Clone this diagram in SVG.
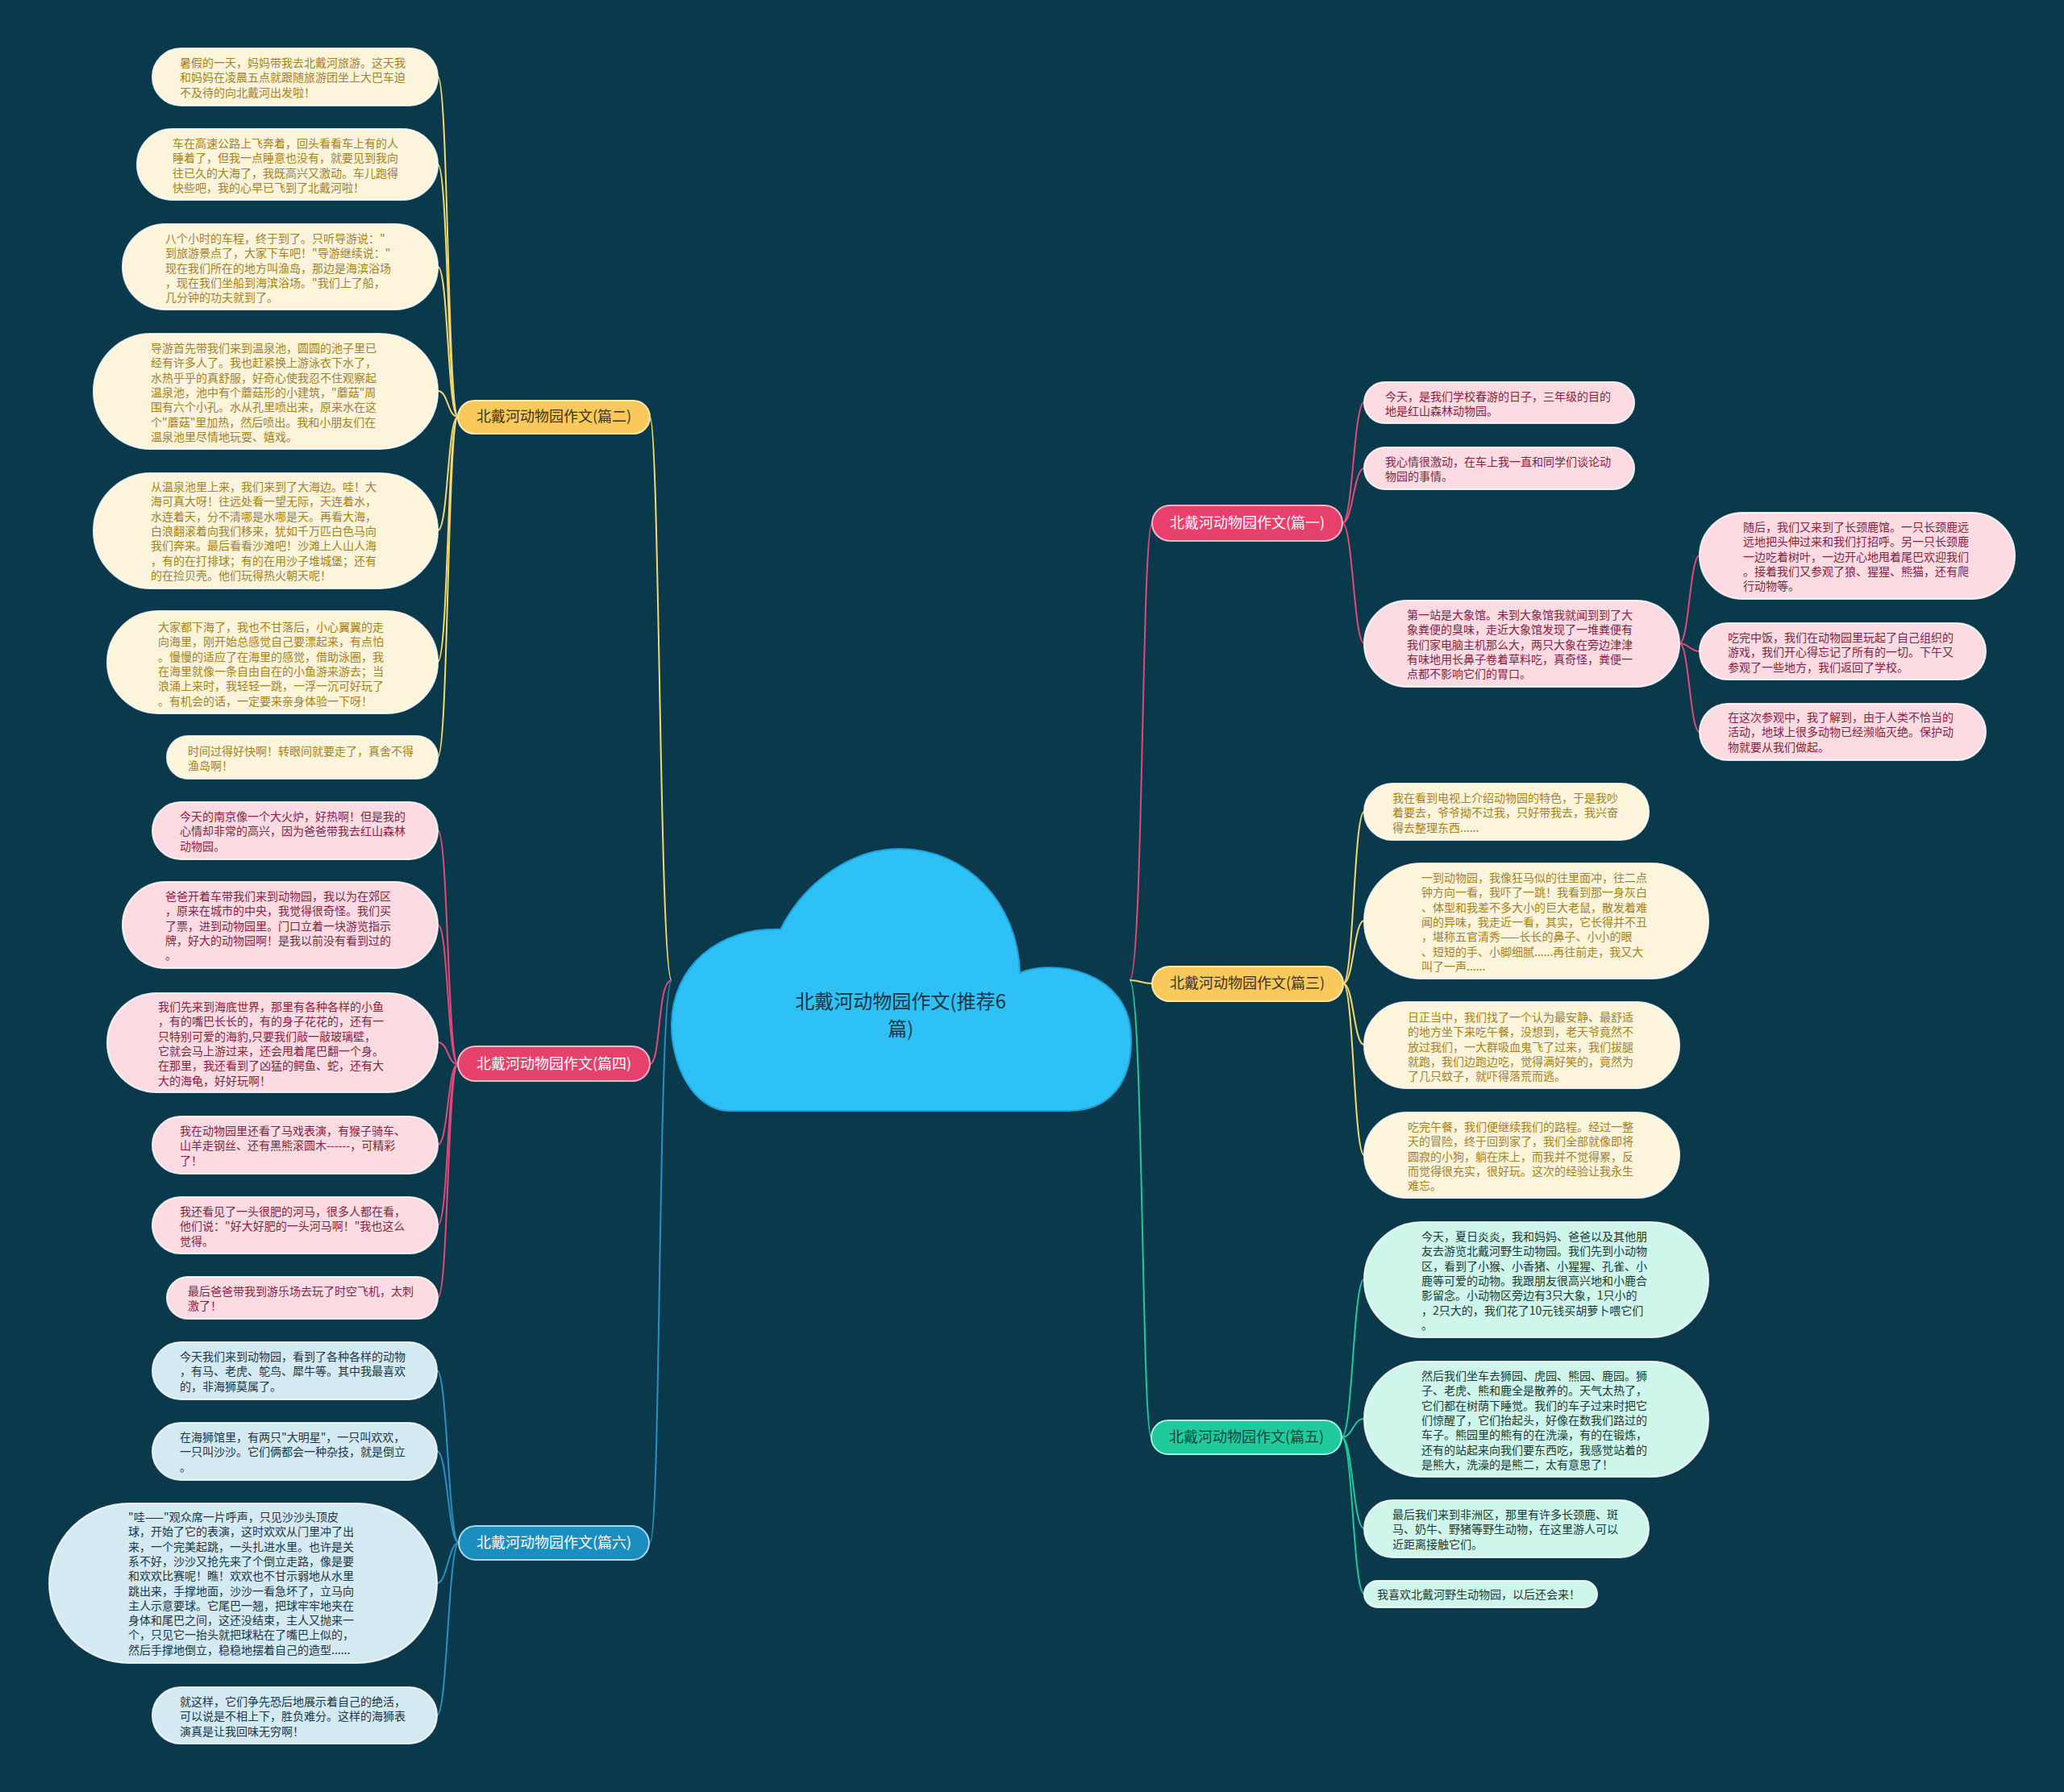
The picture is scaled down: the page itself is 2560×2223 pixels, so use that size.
<svg xmlns="http://www.w3.org/2000/svg" width="2560" height="2223" viewBox="0 0 2560 2223">
<style>
text{font-family:"Noto Sans CJK SC","Noto Sans",sans-serif;}
.t{font-size:14px;}
.lb{font-size:18px;text-anchor:middle;}
.ny{fill:#fdf5db;stroke:#ffffff;stroke-opacity:.85;stroke-width:2;}
.np{fill:#fcdce2;stroke:#ffffff;stroke-opacity:.85;stroke-width:2;}
.nb{fill:#d3eaf2;stroke:#ffffff;stroke-opacity:.85;stroke-width:2;}
.ng{fill:#cff6eb;stroke:#ffffff;stroke-opacity:.85;stroke-width:2;}
.ty{fill:#a8811f;}
.tp{fill:#8b1e3f;}
.tb{fill:#1e3545;}
.tg{fill:#1b3a35;}
.ly{fill:#f9c95b;stroke:#fde8b0;stroke-width:2;}
.lp{fill:#e6416c;stroke:#f7b3c4;stroke-width:2;}
.lbu{fill:#1b8ebf;stroke:#a9dbef;stroke-width:2;}
.lg{fill:#1fcb9c;stroke:#a9efdc;stroke-width:2;}
.c{fill:none;stroke-width:2;}
.cy{stroke:#f5d76e;}
.cp{stroke:#e24a78;}
.cb{stroke:#2a8fc1;}
.cg{stroke:#1fcb9c;}
</style>
<rect class="bg" x="0" y="0" width="2560" height="2223" fill="#0a394c"/>

<g id="connectors">
  <!-- root to branches -->
  <path class="c cy" d="M833 1216 C818 1216,818 517,806 517"/>
  <path class="c cp" d="M833 1216 C815 1216,820 1320,806 1320"/>
  <path class="c cb" d="M833 1216 C816 1216,820 1914,806 1914"/>
  <path class="c cp" d="M1401 1216 C1418 1216,1416 649,1429 649"/>
  <path class="c cy" d="M1401 1216 C1415 1216,1415 1220,1429 1220"/>
  <path class="c cg" d="M1401 1216 C1418 1216,1416 1783,1428 1783"/>
  <!-- 篇二 children -->
  <path class="c cy" d="M568 517 C555 517,556 95,543 95"/>
  <path class="c cy" d="M568 517 C555 517,556 204,543 204"/>
  <path class="c cy" d="M568 517 C555 517,556 331,543 331"/>
  <path class="c cy" d="M568 517 C555 517,556 485,543 485"/>
  <path class="c cy" d="M568 517 C555 517,556 658,543 658"/>
  <path class="c cy" d="M568 517 C555 517,556 821,543 821"/>
  <path class="c cy" d="M568 517 C555 517,556 939,543 939"/>
  <!-- 篇四 children -->
  <path class="c cp" d="M568 1320 C555 1320,556 1030,543 1030"/>
  <path class="c cp" d="M568 1320 C555 1320,556 1147,543 1147"/>
  <path class="c cp" d="M568 1320 C555 1320,556 1293,543 1293"/>
  <path class="c cp" d="M568 1320 C555 1320,556 1420,543 1420"/>
  <path class="c cp" d="M568 1320 C555 1320,556 1520,543 1520"/>
  <path class="c cp" d="M568 1320 C555 1320,556 1610,543 1610"/>
  <!-- 篇六 children -->
  <path class="c cb" d="M569 1914 C556 1914,555 1700,542 1700"/>
  <path class="c cb" d="M569 1914 C556 1914,555 1800,542 1800"/>
  <path class="c cb" d="M569 1914 C556 1914,555 1964,542 1964"/>
  <path class="c cb" d="M569 1914 C556 1914,555 2128,542 2128"/>
  <!-- 篇一 children -->
  <path class="c cp" d="M1665 649 C1678 649,1679 499,1692 499"/>
  <path class="c cp" d="M1665 649 C1678 649,1679 581,1692 581"/>
  <path class="c cp" d="M1665 649 C1678 649,1679 798,1692 798"/>
  <path class="c cp" d="M2083 798 C2095 798,2096 689,2108 689"/>
  <path class="c cp" d="M2083 798 C2095 798,2096 808,2108 808"/>
  <path class="c cp" d="M2083 798 C2095 798,2096 908,2108 908"/>
  <!-- 篇三 children -->
  <path class="c cy" d="M1666 1220 C1679 1220,1679 1007,1692 1007"/>
  <path class="c cy" d="M1666 1220 C1679 1220,1679 1142,1692 1142"/>
  <path class="c cy" d="M1666 1220 C1679 1220,1679 1296,1692 1296"/>
  <path class="c cy" d="M1666 1220 C1679 1220,1679 1433,1692 1433"/>
  <!-- 篇五 children -->
  <path class="c cg" d="M1664 1783 C1678 1783,1678 1587,1692 1587"/>
  <path class="c cg" d="M1664 1783 C1678 1783,1678 1760,1692 1760"/>
  <path class="c cg" d="M1664 1783 C1678 1783,1678 1896,1692 1896"/>
  <path class="c cg" d="M1664 1783 C1678 1783,1678 1977,1692 1977"/>
</g>

<g id="root">
  <path d="M905 1378 C860 1378,832 1320,833 1270 C834 1200,890 1150,968 1153 C1000 1090,1060 1053,1115 1053 C1200 1053,1262 1120,1265 1207 C1300 1190,1403 1200,1403 1290 C1403 1345,1375 1378,1325 1378 Z" fill="#2ec1f5" stroke="#1fa3dc" stroke-width="2"/>
  <text x="1117" y="1251" font-size="24" text-anchor="middle" fill="#1b3443">北戴河动物园作文(推荐6</text>
  <text x="1117" y="1285" font-size="24" text-anchor="middle" fill="#1b3443">篇)</text>
</g>

<!-- 篇二 -->
<g id="b2">
  <rect class="ly" x="568" y="497" width="238" height="41" rx="20.5"/>
  <text class="lb" x="687" y="523" fill="#3b3320">北戴河动物园作文(篇二)</text>
</g>
<g id="b2n1">
  <rect class="ny" x="189" y="60" width="354" height="71" rx="35.5"/>
  <text class="t ty" y="83"><tspan x="223">暑假的一天，妈妈带我去北戴河旅游。这天我</tspan><tspan x="223" dy="18.3">和妈妈在凌晨五点就跟随旅游团坐上大巴车迫</tspan><tspan x="223" dy="18.3">不及待的向北戴河出发啦！</tspan></text>
</g>
<g id="b2n2">
  <rect class="ny" x="170" y="160" width="373" height="88" rx="44"/>
  <text class="t ty" y="183"><tspan x="214">车在高速公路上飞奔着，回头看看车上有的人</tspan><tspan x="214" dy="18.3">睡着了，但我一点睡意也没有，就要见到我向</tspan><tspan x="214" dy="18.3">往已久的大海了，我既高兴又激动。车儿跑得</tspan><tspan x="214" dy="18.3">快些吧，我的心早已飞到了北戴河啦！</tspan></text>
</g>
<g id="b2n3">
  <rect class="ny" x="152" y="278" width="391" height="106" rx="53"/>
  <text class="t ty" y="301"><tspan x="205">八个小时的车程，终于到了。只听导游说："</tspan><tspan x="205" dy="18.3">到旅游景点了，大家下车吧！"导游继续说："</tspan><tspan x="205" dy="18.3">现在我们所在的地方叫渔岛，那边是海滨浴场</tspan><tspan x="205" dy="18.3">，现在我们坐船到海滨浴场。"我们上了船，</tspan><tspan x="205" dy="18.3">几分钟的功夫就到了。</tspan></text>
</g>
<g id="b2n4">
  <rect class="ny" x="116" y="414" width="427" height="143" rx="71.5"/>
  <text class="t ty" y="437"><tspan x="187">导游首先带我们来到温泉池，圆圆的池子里已</tspan><tspan x="187" dy="18.3">经有许多人了。我也赶紧换上游泳衣下水了，</tspan><tspan x="187" dy="18.3">水热乎乎的真舒服，好奇心使我忍不住观察起</tspan><tspan x="187" dy="18.3">温泉池，池中有个蘑菇形的小建筑，"蘑菇"周</tspan><tspan x="187" dy="18.3">围有六个小孔。水从孔里喷出来，原来水在这</tspan><tspan x="187" dy="18.3">个"蘑菇"里加热，然后喷出。我和小朋友们在</tspan><tspan x="187" dy="18.3">温泉池里尽情地玩耍、嬉戏。</tspan></text>
</g>
<g id="b2n5">
  <rect class="ny" x="116" y="587" width="427" height="143" rx="71.5"/>
  <text class="t ty" y="609"><tspan x="187">从温泉池里上来，我们来到了大海边。哇！大</tspan><tspan x="187" dy="18.3">海可真大呀！往远处看一望无际，天连着水，</tspan><tspan x="187" dy="18.3">水连着天，分不清哪是水哪是天。再看大海，</tspan><tspan x="187" dy="18.3">白浪翻滚着向我们移来，犹如千万匹白色马向</tspan><tspan x="187" dy="18.3">我们奔来。最后看看沙滩吧！沙滩上人山人海</tspan><tspan x="187" dy="18.3">，有的在打排球；有的在用沙子堆城堡；还有</tspan><tspan x="187" dy="18.3">的在捡贝壳。他们玩得热火朝天呢！</tspan></text>
</g>
<g id="b2n6">
  <rect class="ny" x="133" y="758" width="410" height="127" rx="63.5"/>
  <text class="t ty" y="783"><tspan x="196">大家都下海了，我也不甘落后，小心翼翼的走</tspan><tspan x="196" dy="18.3">向海里，刚开始总感觉自己要漂起来，有点怕</tspan><tspan x="196" dy="18.3">。慢慢的适应了在海里的感觉，借助泳圈，我</tspan><tspan x="196" dy="18.3">在海里就像一条自由自在的小鱼游来游去；当</tspan><tspan x="196" dy="18.3">浪涌上来时，我轻轻一跳，一浮一沉可好玩了</tspan><tspan x="196" dy="18.3">。有机会的话，一定要来亲身体验一下呀！</tspan></text>
</g>
<g id="b2n7">
  <rect class="ny" x="207" y="913" width="336" height="53" rx="26.5"/>
  <text class="t ty" y="937"><tspan x="233">时间过得好快啊！转眼间就要走了，真舍不得</tspan><tspan x="233" dy="18.3">渔岛啊！</tspan></text>
</g>

<!-- 篇四 -->
<g id="b4">
  <rect class="lp" x="568" y="1298" width="238" height="43" rx="21.5"/>
  <text class="lb" x="687" y="1326" fill="#ffffff">北戴河动物园作文(篇四)</text>
</g>
<g id="b4n1">
  <rect class="np" x="189" y="995" width="354" height="71" rx="35.5"/>
  <text class="t tp" y="1018"><tspan x="223">今天的南京像一个大火炉，好热啊！但是我的</tspan><tspan x="223" dy="18.3">心情却非常的高兴，因为爸爸带我去红山森林</tspan><tspan x="223" dy="18.3">动物园。</tspan></text>
</g>
<g id="b4n2">
  <rect class="np" x="152" y="1094" width="391" height="107" rx="53.5"/>
  <text class="t tp" y="1117"><tspan x="205">爸爸开着车带我们来到动物园，我以为在郊区</tspan><tspan x="205" dy="18.3">，原来在城市的中央，我觉得很奇怪。我们买</tspan><tspan x="205" dy="18.3">了票，进到动物园里。门口立着一块游览指示</tspan><tspan x="205" dy="18.3">牌，好大的动物园啊！是我以前没有看到过的</tspan><tspan x="205" dy="18.3">。</tspan></text>
</g>
<g id="b4n3">
  <rect class="np" x="133" y="1232" width="410" height="123" rx="61.5"/>
  <text class="t tp" y="1254"><tspan x="196">我们先来到海底世界，那里有各种各样的小鱼</tspan><tspan x="196" dy="18.3">，有的嘴巴长长的，有的身子花花的，还有一</tspan><tspan x="196" dy="18.3">只特别可爱的海豹,只要我们敲一敲玻璃壁，</tspan><tspan x="196" dy="18.3">它就会马上游过来，还会甩着尾巴翻一个身。</tspan><tspan x="196" dy="18.3">在那里，我还看到了凶猛的鳄鱼、蛇，还有大</tspan><tspan x="196" dy="18.3">大的海龟，好好玩啊！</tspan></text>
</g>
<g id="b4n4">
  <rect class="np" x="189" y="1385" width="354" height="71" rx="35.5"/>
  <text class="t tp" y="1408"><tspan x="223">我在动物园里还看了马戏表演，有猴子骑车、</tspan><tspan x="223" dy="18.3">山羊走钢丝、还有黑熊滚圆木------，可精彩</tspan><tspan x="223" dy="18.3">了！</tspan></text>
</g>
<g id="b4n5">
  <rect class="np" x="189" y="1485" width="354" height="70" rx="35"/>
  <text class="t tp" y="1508"><tspan x="223">我还看见了一头很肥的河马，很多人都在看，</tspan><tspan x="223" dy="18.3">他们说："好大好肥的一头河马啊！"我也这么</tspan><tspan x="223" dy="18.3">觉得。</tspan></text>
</g>
<g id="b4n6">
  <rect class="np" x="207" y="1584" width="336" height="52" rx="26"/>
  <text class="t tp" y="1607"><tspan x="233">最后爸爸带我到游乐场去玩了时空飞机，太刺</tspan><tspan x="233" dy="18.3">激了！</tspan></text>
</g>

<!-- 篇六 -->
<g id="b6">
  <rect class="lbu" x="569" y="1893" width="236" height="42" rx="21"/>
  <text class="lb" x="687" y="1920" fill="#ffffff">北戴河动物园作文(篇六)</text>
</g>
<g id="b6n1">
  <rect class="nb" x="189" y="1665" width="353" height="71" rx="35.5"/>
  <text class="t tb" y="1688"><tspan x="223">今天我们来到动物园，看到了各种各样的动物</tspan><tspan x="223" dy="18.3">，有马、老虎、鸵鸟、犀牛等。其中我最喜欢</tspan><tspan x="223" dy="18.3">的，非海狮莫属了。</tspan></text>
</g>
<g id="b6n2">
  <rect class="nb" x="189" y="1765" width="353" height="71" rx="35.5"/>
  <text class="t tb" y="1788"><tspan x="223">在海狮馆里，有两只"大明星"，一只叫欢欢，</tspan><tspan x="223" dy="18.3">一只叫沙沙。它们俩都会一种杂技，就是倒立</tspan><tspan x="223" dy="18.3">。</tspan></text>
</g>
<g id="b6n3">
  <rect class="nb" x="61" y="1865" width="481" height="198" rx="99"/>
  <text class="t tb" y="1887"><tspan x="159">"哇——"观众席一片呼声，只见沙沙头顶皮</tspan><tspan x="159" dy="18.3">球，开始了它的表演，这时欢欢从门里冲了出</tspan><tspan x="159" dy="18.3">来，一个完美起跳，一头扎进水里。也许是关</tspan><tspan x="159" dy="18.3">系不好，沙沙又抢先来了个倒立走路，像是要</tspan><tspan x="159" dy="18.3">和欢欢比赛呢！瞧！欢欢也不甘示弱地从水里</tspan><tspan x="159" dy="18.3">跳出来，手撑地面，沙沙一看急坏了，立马向</tspan><tspan x="159" dy="18.3">主人示意要球。它尾巴一翘，把球牢牢地夹在</tspan><tspan x="159" dy="18.3">身体和尾巴之间，这还没结束，主人又抛来一</tspan><tspan x="159" dy="18.3">个，只见它一抬头就把球粘在了嘴巴上似的，</tspan><tspan x="159" dy="18.3">然后手撑地倒立，稳稳地摆着自己的造型......</tspan></text>
</g>
<g id="b6n4">
  <rect class="nb" x="189" y="2093" width="353" height="70" rx="35"/>
  <text class="t tb" y="2116"><tspan x="223">就这样，它们争先恐后地展示着自己的绝活，</tspan><tspan x="223" dy="18.3">可以说是不相上下，胜负难分。这样的海狮表</tspan><tspan x="223" dy="18.3">演真是让我回味无穷啊！</tspan></text>
</g>

<!-- 篇一 -->
<g id="b1">
  <rect class="lp" x="1429" y="627" width="236" height="44" rx="22"/>
  <text class="lb" x="1547" y="655" fill="#ffffff">北戴河动物园作文(篇一)</text>
</g>
<g id="b1n1">
  <rect class="np" x="1692" y="474" width="335" height="51" rx="25.5"/>
  <text class="t tp" y="497"><tspan x="1718">今天，是我们学校春游的日子，三年级的目的</tspan><tspan x="1718" dy="18.3">地是红山森林动物园。</tspan></text>
</g>
<g id="b1n2">
  <rect class="np" x="1692" y="555" width="335" height="52" rx="26"/>
  <text class="t tp" y="578"><tspan x="1718">我心情很激动，在车上我一直和同学们谈论动</tspan><tspan x="1718" dy="18.3">物园的事情。</tspan></text>
</g>
<g id="b1n3">
  <rect class="np" x="1692" y="745" width="391" height="107" rx="53.5"/>
  <text class="t tp" y="768"><tspan x="1745">第一站是大象馆。未到大象馆我就闻到到了大</tspan><tspan x="1745" dy="18.3">象粪便的臭味，走近大象馆发现了一堆粪便有</tspan><tspan x="1745" dy="18.3">我们家电脑主机那么大，两只大象在旁边津津</tspan><tspan x="1745" dy="18.3">有味地用长鼻子卷着草料吃，真奇怪，粪便一</tspan><tspan x="1745" dy="18.3">点都不影响它们的胃口。</tspan></text>
</g>
<g id="b1n3s1">
  <rect class="np" x="2108" y="636" width="391" height="107" rx="53.5"/>
  <text class="t tp" y="659"><tspan x="2162">随后，我们又来到了长颈鹿馆。一只长颈鹿远</tspan><tspan x="2162" dy="18.3">远地把头伸过来和我们打招呼。另一只长颈鹿</tspan><tspan x="2162" dy="18.3">一边吃着树叶，一边开心地甩着尾巴欢迎我们</tspan><tspan x="2162" dy="18.3">。接着我们又参观了狼、猩猩、熊猫，还有爬</tspan><tspan x="2162" dy="18.3">行动物等。</tspan></text>
</g>
<g id="b1n3s2">
  <rect class="np" x="2108" y="773" width="355" height="70" rx="35"/>
  <text class="t tp" y="796"><tspan x="2143">吃完中饭，我们在动物园里玩起了自己组织的</tspan><tspan x="2143" dy="18.3">游戏，我们开心得忘记了所有的一切。下午又</tspan><tspan x="2143" dy="18.3">参观了一些地方，我们返回了学校。</tspan></text>
</g>
<g id="b1n3s3">
  <rect class="np" x="2108" y="873" width="355" height="70" rx="35"/>
  <text class="t tp" y="895"><tspan x="2143">在这次参观中，我了解到，由于人类不恰当的</tspan><tspan x="2143" dy="18.3">活动，地球上很多动物已经濒临灭绝。保护动</tspan><tspan x="2143" dy="18.3">物就要从我们做起。</tspan></text>
</g>

<!-- 篇三 -->
<g id="b3">
  <rect class="ly" x="1429" y="1199" width="237" height="43" rx="21.5"/>
  <text class="lb" x="1547" y="1226" fill="#3b3320">北戴河动物园作文(篇三)</text>
</g>
<g id="b3n1">
  <rect class="ny" x="1692" y="972" width="353" height="70" rx="35"/>
  <text class="t ty" y="995"><tspan x="1727">我在看到电视上介绍动物园的特色，于是我吵</tspan><tspan x="1727" dy="18.3">着要去，爷爷拗不过我，只好带我去，我兴奋</tspan><tspan x="1727" dy="18.3">得去整理东西......</tspan></text>
</g>
<g id="b3n2">
  <rect class="ny" x="1692" y="1071" width="427" height="143" rx="71.5"/>
  <text class="t ty" y="1094"><tspan x="1763">一到动物园，我像狂马似的往里面冲，往二点</tspan><tspan x="1763" dy="18.3">钟方向一看，我吓了一跳！我看到那一身灰白</tspan><tspan x="1763" dy="18.3">、体型和我差不多大小的巨大老鼠，散发着难</tspan><tspan x="1763" dy="18.3">闻的异味，我走近一看，其实，它长得并不丑</tspan><tspan x="1763" dy="18.3">，堪称五官清秀——长长的鼻子、小小的眼</tspan><tspan x="1763" dy="18.3">、短短的手、小脚细腻......再往前走，我又大</tspan><tspan x="1763" dy="18.3">叫了一声......</tspan></text>
</g>
<g id="b3n3">
  <rect class="ny" x="1692" y="1243" width="391" height="107" rx="53.5"/>
  <text class="t ty" y="1267"><tspan x="1746">日正当中，我们找了一个认为最安静、最舒适</tspan><tspan x="1746" dy="18.3">的地方坐下来吃午餐，没想到，老天爷竟然不</tspan><tspan x="1746" dy="18.3">放过我们，一大群吸血鬼飞了过来，我们拔腿</tspan><tspan x="1746" dy="18.3">就跑，我们边跑边吃，觉得满好笑的，竟然为</tspan><tspan x="1746" dy="18.3">了几只蚊子，就吓得落荒而逃。</tspan></text>
</g>
<g id="b3n4">
  <rect class="ny" x="1692" y="1380" width="391" height="106" rx="53"/>
  <text class="t ty" y="1403"><tspan x="1746">吃完午餐，我们便继续我们的路程。经过一整</tspan><tspan x="1746" dy="18.3">天的冒险，终于回到家了，我们全部就像即将</tspan><tspan x="1746" dy="18.3">圆寂的小狗，躺在床上，而我并不觉得累，反</tspan><tspan x="1746" dy="18.3">而觉得很充实，很好玩。这次的经验让我永生</tspan><tspan x="1746" dy="18.3">难忘。</tspan></text>
</g>

<!-- 篇五 -->
<g id="b5">
  <rect class="lg" x="1428" y="1762" width="236" height="42" rx="21"/>
  <text class="lb" x="1546" y="1789" fill="#17403a">北戴河动物园作文(篇五)</text>
</g>
<g id="b5n1">
  <rect class="ng" x="1692" y="1516" width="427" height="143" rx="71.5"/>
  <text class="t tg" y="1539"><tspan x="1763">今天，夏日炎炎，我和妈妈、爸爸以及其他朋</tspan><tspan x="1763" dy="18.3">友去游览北戴河野生动物园。我们先到小动物</tspan><tspan x="1763" dy="18.3">区，看到了小猴、小香猪、小猩猩、孔雀、小</tspan><tspan x="1763" dy="18.3">鹿等可爱的动物。我跟朋友很高兴地和小鹿合</tspan><tspan x="1763" dy="18.3">影留念。小动物区旁边有3只大象，1只小的</tspan><tspan x="1763" dy="18.3">，2只大的，我们花了10元钱买胡萝卜喂它们</tspan><tspan x="1763" dy="18.3">。</tspan></text>
</g>
<g id="b5n2">
  <rect class="ng" x="1692" y="1689" width="427" height="143" rx="71.5"/>
  <text class="t tg" y="1712"><tspan x="1763">然后我们坐车去狮园、虎园、熊园、鹿园。狮</tspan><tspan x="1763" dy="18.3">子、老虎、熊和鹿全是散养的。天气太热了，</tspan><tspan x="1763" dy="18.3">它们都在树荫下睡觉。我们的车子过来时把它</tspan><tspan x="1763" dy="18.3">们惊醒了，它们抬起头，好像在数我们路过的</tspan><tspan x="1763" dy="18.3">车子。熊园里的熊有的在洗澡，有的在锻炼，</tspan><tspan x="1763" dy="18.3">还有的站起来向我们要东西吃，我感觉站着的</tspan><tspan x="1763" dy="18.3">是熊大，洗澡的是熊二，太有意思了！</tspan></text>
</g>
<g id="b5n3">
  <rect class="ng" x="1692" y="1861" width="353" height="71" rx="35.5"/>
  <text class="t tg" y="1884"><tspan x="1727">最后我们来到非洲区，那里有许多长颈鹿、斑</tspan><tspan x="1727" dy="18.3">马、奶牛、野猪等野生动物，在这里游人可以</tspan><tspan x="1727" dy="18.3">近距离接触它们。</tspan></text>
</g>
<g id="b5n4">
  <rect class="ng" x="1692" y="1961" width="289" height="33" rx="16.5"/>
  <text class="t tg" x="1708" y="1983">我喜欢北戴河野生动物园，以后还会来！</text>
</g>
</svg>
